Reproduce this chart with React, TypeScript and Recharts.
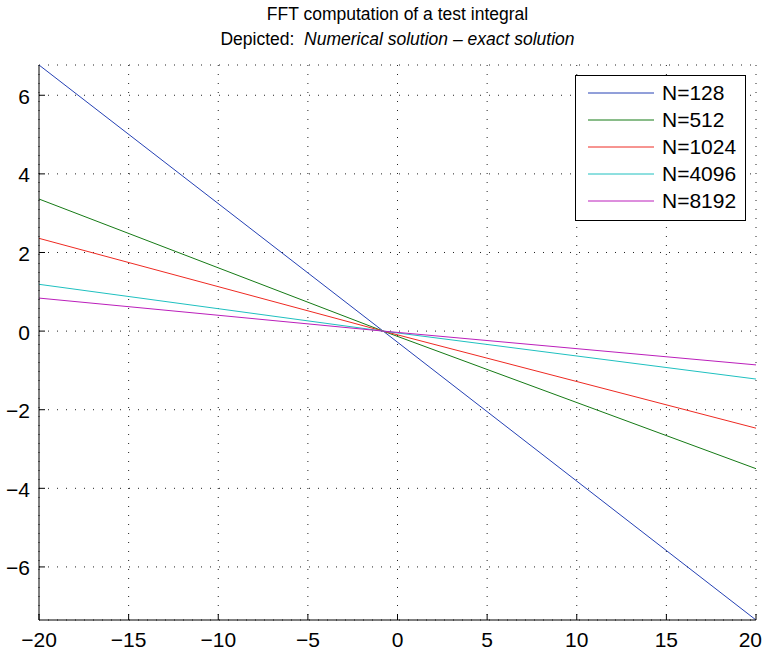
import { LineChart, Line, XAxis, YAxis, CartesianGrid } from 'recharts'

// x positions sampled (ends of the plotted range and the common crossing point)
const xValues = [-20, -0.8, 20]
const n128 = [6.77, 0, -7.35]
const n512 = [3.36, 0, -3.5]
const n1024 = [2.36, 0, -2.47]
const n4096 = [1.19, 0, -1.22]
const n8192 = [0.84, 0, -0.86]

const xTicks = [-20, -15, -10, -5, 0, 5, 10, 15, 20]
const yTicks = [-6, -4, -2, 0, 2, 4, 6]

const seriesNames = ['N=128', 'N=512', 'N=1024', 'N=4096', 'N=8192']
const seriesColors = ['#2440b4', '#157a15', '#ee2a22', '#1fc0c0', '#bb1fbb']

const data = xValues.map((x, i) => ({
  x,
  s0: n128[i],
  s1: n512[i],
  s2: n1024[i],
  s3: n4096[i],
  s4: n8192[i],
}))

const FONT = '"Liberation Sans", Arial, Helvetica, sans-serif'
const fmt = (v: number) => (v < 0 ? '\u2212' + Math.abs(v) : String(v))
const TL = 6
const TICK_FS = 21

const LeftTick = (p: any) => (
  <g>
    <line x1={p.x} y1={p.y} x2={p.x + TL} y2={p.y} stroke="#000" />
    <text x={p.x - 9} y={p.y + 1} dy="0.36em" textAnchor="end" fontSize={TICK_FS} fontFamily={FONT} fill="#000">
      {fmt(p.payload.value)}
    </text>
  </g>
)
const BottomTick = (p: any) => {
  // keep the last label inside the page, as the original does
  const last = p.payload.value === xTicks[xTicks.length - 1]
  return (
    <g>
      <line x1={p.x} y1={p.y} x2={p.x} y2={p.y - TL} stroke="#000" />
      <text
        x={last ? p.x + 6 : p.x}
        y={p.y + 27}
        textAnchor={last ? 'end' : 'middle'}
        fontSize={TICK_FS}
        fontFamily={FONT}
        fill="#000"
      >
        {fmt(p.payload.value)}
      </text>
    </g>
  )
}
const RightTick = (p: any) => <line x1={p.x} y1={p.y} x2={p.x - TL} y2={p.y} stroke="#000" />
const TopTick = (p: any) => <line x1={p.x} y1={p.y} x2={p.x} y2={p.y + TL} stroke="#000" />

const LegendBox = () => (
  <div
    style={{
      position: 'absolute',
      left: 575,
      top: 75,
      width: 169,
      border: '1px solid #000',
      background: '#fff',
      padding: '3px 0 5px 0',
      fontFamily: FONT,
      fontSize: 21,
      color: '#000',
    }}
  >
    {seriesNames.map((name, i) => (
      <div key={name} style={{ display: 'flex', alignItems: 'center', height: 27.2 }}>
        <svg width={78} height={4} style={{ display: 'block' }}>
          <line x1={12} y1={2} x2={78} y2={2} stroke={seriesColors[i]} strokeWidth={1} />
        </svg>
        <span style={{ marginLeft: 8 }}>{name}</span>
      </div>
    ))}
  </div>
)

export default function App() {
  return (
    <div style={{ position: 'absolute', left: 0, top: 0, width: 764, height: 652, background: '#fff' }}>
      <LineChart width={764} height={652} data={data} margin={{ top: 65, right: 8, bottom: 0, left: 0 }}>
        <CartesianGrid xAxisId="b" yAxisId="l" stroke="#222" strokeDasharray="1 8" horizontal vertical />
        <XAxis
          dataKey="x"
          type="number"
          xAxisId="b"
          domain={[-20, 20]}
          ticks={xTicks}
          interval={0}
          height={32}
          tickSize={0}
          tickMargin={0}
          tickLine={false}
          axisLine={{ stroke: '#000' }}
          tick={BottomTick}
          allowDataOverflow
        />
        <XAxis
          dataKey="x"
          type="number"
          xAxisId="t"
          orientation="top"
          domain={[-20, 20]}
          ticks={xTicks}
          interval={0}
          height={0}
          tickSize={0}
          tickMargin={0}
          tickLine={false}
          axisLine={{ stroke: '#000' }}
          tick={TopTick}
          allowDataOverflow
        />
        <YAxis
          yAxisId="l"
          type="number"
          domain={[-7.35, 6.77]}
          ticks={yTicks}
          interval={0}
          width={39}
          tickSize={0}
          tickMargin={0}
          tickLine={false}
          axisLine={{ stroke: '#000' }}
          tick={LeftTick}
          allowDataOverflow
        />
        <YAxis
          yAxisId="r"
          orientation="right"
          type="number"
          domain={[-7.35, 6.77]}
          ticks={yTicks}
          interval={0}
          width={0}
          tickSize={0}
          tickMargin={0}
          tickLine={false}
          axisLine={{ stroke: '#000' }}
          tick={RightTick}
          allowDataOverflow
        />
        {seriesNames.map((name, i) => (
          <Line
            key={name}
            xAxisId="b"
            yAxisId="l"
            type="linear"
            dataKey={'s' + i}
            name={name}
            stroke={seriesColors[i]}
            strokeWidth={1}
            dot={false}
            activeDot={false}
            isAnimationActive={false}
          />
        ))}
      </LineChart>
      <div
        style={{
          position: 'absolute',
          left: 39,
          width: 717,
          top: 2,
          textAlign: 'center',
          fontFamily: FONT,
          fontSize: 17.5,
          lineHeight: '25px',
          color: '#000',
        }}
      >
        <div>FFT computation of a test integral</div>
        <div>
          Depicted:&nbsp; <i>Numerical solution – exact solution</i>
        </div>
      </div>
      <LegendBox />
    </div>
  )
}
